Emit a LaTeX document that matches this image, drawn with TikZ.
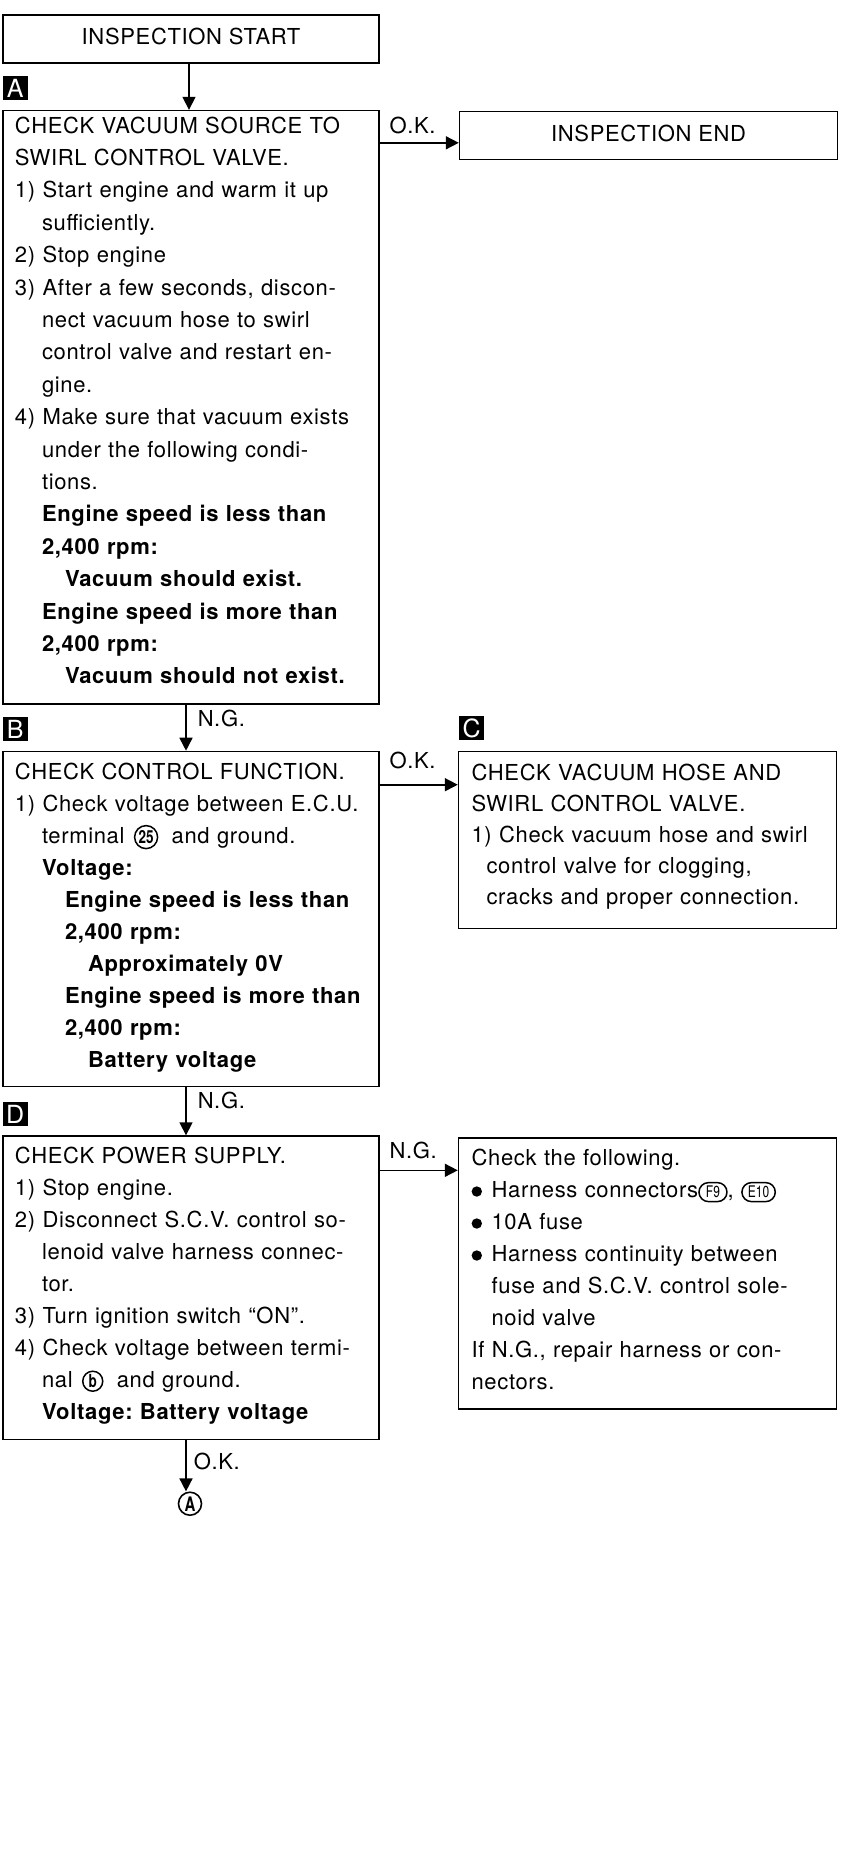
\documentclass[tikz,border=0pt]{standalone}
\usepackage{fontspec}
\setmainfont{TeX Gyre Heros}[LetterSpace=3]
\newfontfamily\condfont{TeX Gyre Heros}[FakeStretch=0.75]
\usetikzlibrary{positioning,arrows.meta}
\frenchspacing
\newcommand{\bodyfont}[1]{\fontsize{11}{#1}\selectfont}
\newcommand{\indone}{\hspace*{13.5pt}}
\newcommand{\indtwo}{\hspace*{25pt}}
\newcommand{\indthree}{\hspace*{36.5pt}}
\newcommand{\topgap}[1]{\rule{0pt}{#1}}
\newcommand{\botgap}[1]{\rule[-#1]{0pt}{#1}}
\tikzset{
  titlebox/.style={rectangle,draw,line width=0.8pt,minimum width=188pt,minimum height=24pt,text depth=2.5pt,inner sep=0pt,font=\bodyfont{16}},
  stepbox/.style={rectangle,draw,line width=0.8pt,text width=176pt,align=left,inner xsep=6pt,inner ysep=0pt,font=\bodyfont{16}},
  sidebox/.style={stepbox,inner xsep=6.5pt},
  badge/.style={rectangle,fill=black,text=white,minimum width=12.5pt,minimum height=12pt,inner sep=0pt,font=\fontsize{12.5}{12.5}\selectfont},
  smallsym/.style={draw,line width=0.75pt,inner sep=0pt,at={(0,0)},text width={},minimum width=0pt,minimum height=0pt,align=center},
  endmark/.style={circle,draw,line width=0.8pt,minimum size=11.5pt,inner sep=0pt,font=\condfont\bfseries\fontsize{10}{10}\selectfont},
  lbl/.style={inner sep=0pt,font=\bodyfont{16}},
  edge/.style={-{Triangle[length=6.5pt,width=6.5pt]},line width=0.8pt}
}
% circled terminal numbers and connector marks inside the text
\newcommand{\circnum}[2][11.5pt]{\hspace{1pt}\tikz[baseline={([yshift=-3.2pt]sym.center)}]\node[smallsym,circle,minimum size=#1,font=\condfont\bfseries\fontsize{9}{9}\selectfont] (sym) {#2};\hspace{3pt}}
\newcommand{\conn}[1]{\tikz[baseline={([yshift=-2.5pt]sym.center)}]\node[smallsym,rectangle,rounded corners=4.75pt,minimum width=14pt,minimum height=9.5pt,inner xsep=3pt,font=\condfont\fontsize{8}{8}\selectfont] (sym) {#1};}
\newcommand{\bul}{\makebox[10pt][l]{\tikz[baseline=-2.8pt]\fill (0,0) circle (2.6pt);}}

\begin{document}
\begin{tikzpicture}
  \useasboundingbox (0,0) rectangle (420.5pt,-930pt);

  \node[titlebox] (start) at (95.5pt,-19.5pt) {INSPECTION START};

  \node[stepbox,font=\bodyfont{16.2},below=23pt of start] (vacuum) {\topgap{11.25pt}CHECK VACUUM SOURCE TO\\
    SWIRL CONTROL VALVE.\\
    1) Start engine and warm it up\\
    \indone sufficiently.\\
    2) Stop engine\\
    3) After a few seconds, discon-\\
    \indone nect vacuum hose to swirl\\
    \indone control valve and restart en-\\
    \indone gine.\\
    4) Make sure that vacuum exists\\
    \indone under the following condi-\\
    \indone tions.\\
    \indone\textbf{Engine speed is less than}\\
    \indone\textbf{2,400 rpm:}\\
    \indtwo\textbf{Vacuum should exist.}\\
    \indone\textbf{Engine speed is more than}\\
    \indone\textbf{2,400 rpm:}\\
    \indtwo\textbf{Vacuum should not exist.}\botgap{10pt}};

  \node[stepbox,below=23pt of vacuum] (control) {\topgap{14pt}CHECK CONTROL FUNCTION.\\
    1) Check voltage between E.C.U.\\
    \indone terminal \circnum{25} and ground.\\
    \indone\textbf{Voltage:}\\
    \indtwo\textbf{Engine speed is less than}\\
    \indtwo\textbf{2,400 rpm:}\\
    \indthree\textbf{Approximately 0V}\\
    \indtwo\textbf{Engine speed is more than}\\
    \indtwo\textbf{2,400 rpm:}\\
    \indthree\textbf{Battery voltage}\botgap{9.5pt}};

  \node[stepbox,below=24pt of control] (power) {\topgap{13.75pt}CHECK POWER SUPPLY.\\
    1) Stop engine.\\
    2) Disconnect S.C.V. control so-\\
    \indone lenoid valve harness connec-\\
    \indone tor.\\
    3) Turn ignition switch ``ON''.\\
    4) Check voltage between termi-\\
    \indone nal \circnum[10pt]{b} and ground.\\
    \indone\textbf{Voltage: Battery voltage}\botgap{10pt}};

  \node[titlebox,minimum width=189pt,below right=0.5pt and 39.5pt of vacuum.north east] (finish) {INSPECTION END};

  \node[sidebox,font=\bodyfont{15.5},below right=0pt and 39pt of control.north east] (hose) {\topgap{14.5pt}CHECK VACUUM HOSE AND\\
    SWIRL CONTROL VALVE.\\
    1) Check vacuum hose and swirl\\
    \hspace*{7.5pt}control valve for clogging,\\
    \hspace*{7.5pt}cracks and proper connection.\botgap{12pt}};

  \node[sidebox,below right=1pt and 39pt of power.north east] (harness) {\topgap{13.5pt}Check the following.\\
    \bul Harness connectors\conn{F9}, \conn{E10}\\
    \bul 10A fuse\\
    \bul Harness continuity between\\
    \hspace*{10pt}fuse and S.C.V. control sole-\\
    \hspace*{10pt}noid valve\\
    If N.G., repair harness or con-\\
    nectors.\botgap{10pt}};

  \node[endmark,below=25.5pt of power.south,xshift=-0.5pt] (toA) {A};

  % step letters
  \node[badge,above right=4.5pt and 0pt of vacuum.north west] (tagA) {A};
  \node[badge,above right=4.5pt and 0pt of control.north west] (tagB) {B};
  \node[badge,above right=5pt and 0.5pt of hose.north west] (tagC) {C};
  \node[badge,above right=4.5pt and 0pt of power.north west] (tagD) {D};

  % connectors
  \coordinate (go) at ([xshift=-1pt]start.south);
  \draw[edge] (go) -- (go |- vacuum.north);

  \coordinate (okA) at ([yshift=-16.5pt]vacuum.north east);
  \draw[edge] (okA) -- (okA -| finish.west) node[lbl,pos=0,anchor=base west,xshift=4.5pt,yshift=4.5pt] {O.K.};

  \coordinate (ngA) at ([xshift=-2.5pt]vacuum.south);
  \draw[edge] (ngA) -- (ngA |- control.north) node[lbl,pos=0,anchor=north west,xshift=5.5pt,yshift=-2.5pt] {N.G.};

  \coordinate (okB) at ([yshift=-17pt]control.north east);
  \draw[edge] (okB) -- (okB -| hose.west) node[lbl,pos=0,anchor=base west,xshift=4.5pt,yshift=8pt] {O.K.};

  \coordinate (ngB) at ([xshift=-2.5pt]control.south);
  \draw[edge] (ngB) -- (ngB |- power.north) node[lbl,pos=0,anchor=north west,xshift=5.5pt,yshift=-2pt] {N.G.};

  \coordinate (ngD) at ([yshift=-17.5pt]power.north east);
  \draw[edge] (ngD) -- (ngD -| harness.west) node[lbl,pos=0,anchor=base west,xshift=4.5pt,yshift=6pt] {N.G.};

  \coordinate (okD) at ([xshift=-2.5pt]power.south);
  \draw[edge] (okD) -- (okD |- toA.north) node[lbl,pos=0,anchor=north west,xshift=3.5pt,yshift=-6pt] {O.K.};
\end{tikzpicture}
\end{document}
